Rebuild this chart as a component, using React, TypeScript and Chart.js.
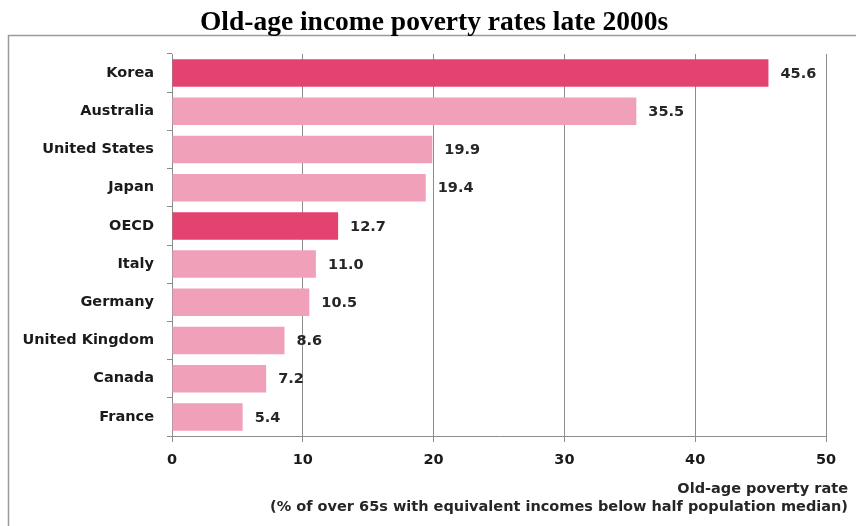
import React, { useEffect, useRef } from "react";
import { Chart, registerables } from "chart.js";

Chart.register(...registerables);

const categories = ["Korea", "Australia", "United States", "Japan", "OECD", "Italy", "Germany", "United Kingdom", "Canada", "France"];
const povertyRates = [45.6, 35.5, 19.9, 19.4, 12.7, 11.0, 10.5, 8.6, 7.2, 5.4];
const highlighted = ["Korea", "OECD"];
const xTicks = [0, 10, 20, 30, 40, 50];
const chartTitle = "Old-age income poverty rates late 2000s";
const axisTitleLines = ["Old-age poverty rate", "(% of over 65s with equivalent incomes below half population median)"];

const DARK = "#E3446F";
const LIGHT = "#F0A0B8";
const GRID = "#8c8c8c";
const LABEL_FONT = "'DejaVu Sans', sans-serif";
const LABEL_SIZE = 14.5;

const decorPlugin = {
  id: "decor",
  beforeDraw(chart: any) {
    const ctx = chart.ctx;
    ctx.save();
    ctx.strokeStyle = "#9a9a9a";
    ctx.lineWidth = 1.5;
    ctx.beginPath();
    ctx.moveTo(8.5, chart.height + 5);
    ctx.lineTo(8.5, 35.5);
    ctx.lineTo(chart.width + 5, 35.5);
    ctx.stroke();
    ctx.font = "bold 27.5px 'Liberation Serif', serif";
    ctx.fillStyle = "#000";
    ctx.textAlign = "center";
    ctx.textBaseline = "alphabetic";
    ctx.fillText(chartTitle, 434, 30);
    ctx.restore();
  },
  afterDatasetsDraw(chart: any) {
    const ctx = chart.ctx;
    const meta = chart.getDatasetMeta(0);
    ctx.save();
    ctx.font = `bold ${LABEL_SIZE}px ${LABEL_FONT}`;
    ctx.fillStyle = "#262626";
    ctx.textAlign = "left";
    ctx.textBaseline = "middle";
    meta.data.forEach((bar: any, i: number) => {
      const v = chart.data.datasets[0].data[i] as number;
      ctx.fillText(v.toFixed(1), bar.x + 12, bar.y + 1);
    });
    ctx.font = `bold ${LABEL_SIZE}px ${LABEL_FONT}`;
    ctx.textAlign = "right";
    ctx.textBaseline = "middle";
    ctx.fillText(axisTitleLines[0], 848, 489);
    ctx.fillText(axisTitleLines[1], 848, 507);
    ctx.restore();
  },
};

export default function App() {
  const ref = useRef<HTMLCanvasElement | null>(null);
  useEffect(() => {
    document.body.style.margin = "0";
    const chart = new Chart(ref.current as HTMLCanvasElement, {
      type: "bar",
      data: {
        labels: categories,
        datasets: [
          {
            data: povertyRates,
            backgroundColor: categories.map((c) => (highlighted.includes(c) ? DARK : LIGHT)),
            barPercentage: 0.72,
            categoryPercentage: 1,
          },
        ],
      },
      options: {
        indexAxis: "y",
        animation: false,
        responsive: true,
        maintainAspectRatio: false,
        layout: { padding: { left: 0, right: 30, top: 54, bottom: 0 } },
        plugins: {
          legend: { display: false },
          tooltip: { enabled: false },
          title: { display: false },
        },
        scales: {
          x: {
            min: 0,
            max: 50,
            afterBuildTicks: (scale: any) => {
              scale.ticks = xTicks.map((v) => ({ value: v }));
            },
            afterFit: (scale: any) => {
              scale.height = 90;
            },
            grid: { color: GRID, lineWidth: 1, drawTicks: true, tickLength: 6, tickColor: GRID },
            border: { color: GRID, width: 1 },
            ticks: {
              color: "#1a1a1a",
              padding: 10,
              font: { family: LABEL_FONT, size: LABEL_SIZE, weight: "bold" },
              maxRotation: 0,
            },
          },
          y: {
            afterFit: (scale: any) => {
              scale.width = 172;
            },
            grid: { drawOnChartArea: false, drawTicks: true, tickLength: 5, color: GRID, offset: true },
            border: { color: GRID, width: 1 },
            ticks: {
              color: "#1a1a1a",
              padding: 13,
              font: { family: LABEL_FONT, size: LABEL_SIZE, weight: "bold" },
            },
          },
        },
      },
      plugins: [decorPlugin],
    } as any);
    return () => chart.destroy();
  }, []);
  return (
    <div style={{ position: "relative", width: 856, height: 526, background: "#fff" }}>
      <canvas ref={ref} />
    </div>
  );
}
